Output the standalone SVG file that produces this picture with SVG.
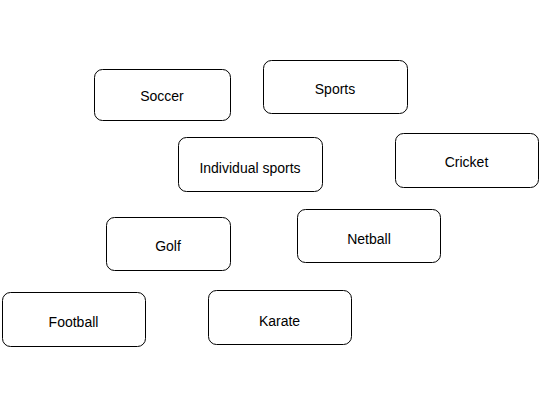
<svg xmlns="http://www.w3.org/2000/svg" width="540" height="405" viewBox="0 0 540 405">
<style>
.n rect{fill:#fff;stroke:#000;stroke-width:1}
.n text{font-family:"Liberation Sans",Arial,sans-serif;font-size:14px;fill:#000;text-anchor:middle;dominant-baseline:central}
</style>
<rect width="540" height="405" fill="#fff"/>
<g id="connectors"></g>
<g id="soccer" class="n"><rect x="94.5" y="69.5" width="136" height="51" rx="8"/><text x="162" y="95.5">Soccer</text></g>
<g id="sports" class="n"><rect x="263.5" y="60.5" width="144" height="53" rx="8"/><text x="335" y="89">Sports</text></g>
<g id="individual" class="n"><rect x="178.5" y="137.5" width="144" height="54" rx="8"/><text x="250" y="168">Individual sports</text></g>
<g id="cricket" class="n"><rect x="395.5" y="133.5" width="143" height="54" rx="8"/><text x="466.5" y="162">Cricket</text></g>
<g id="golf" class="n"><rect x="106.5" y="217.5" width="124" height="53" rx="8"/><text x="168" y="246">Golf</text></g>
<g id="netball" class="n"><rect x="297.5" y="209.5" width="143" height="53" rx="8"/><text x="369" y="238.5">Netball</text></g>
<g id="football" class="n"><rect x="2.5" y="292.5" width="143" height="54" rx="8"/><text x="73.5" y="321.5">Football</text></g>
<g id="karate" class="n"><rect x="208.5" y="290.5" width="143" height="54" rx="8"/><text x="279.5" y="320.5">Karate</text></g>
</svg>
